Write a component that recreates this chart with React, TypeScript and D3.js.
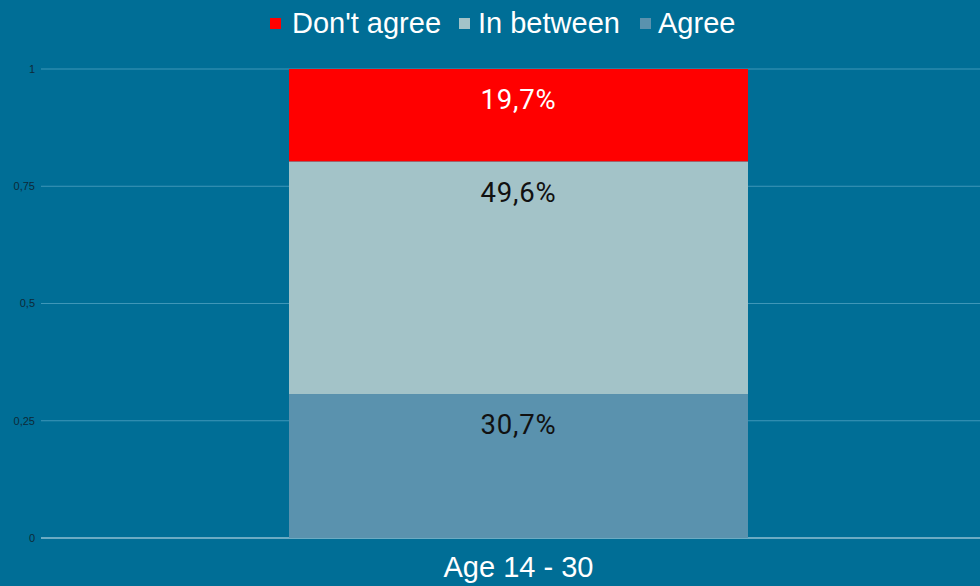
import React from "react";
import * as d3 from "d3";

const categories = ["Age 14 - 30"];
const seriesNames = ["Agree", "In between", "Don't agree"];
const agree = [0.307];
const inBetween = [0.496];
const dontAgree = [0.197];
const yTicks = [0, 0.25, 0.5, 0.75, 1];
const yTickLabels = ["0", "0,25", "0,5", "0,75", "1"];
const legendOrder = ["Don't agree", "In between", "Agree"];

const colors: Record<string, string> = {
  "Don't agree": "#ff0000",
  "In between": "#a3c3c8",
  Agree: "#5a92ae",
};
const labelColors: Record<string, string> = {
  "Don't agree": "#ffffff",
  "In between": "#111111",
  Agree: "#111111",
};

export default function App() {
  const W = 980, H = 586;
  const left = 41, right = 980, top = 69, bottom = 538;
  const x = d3.scaleBand().domain(categories).range([left, 996]).paddingInner(0).paddingOuter(0.5403);
  const y = d3.scaleLinear().domain([0, 1]).range([bottom, top]);
  const table = categories.map((c, i) => ({
    cat: c,
    Agree: agree[i],
    "In between": inBetween[i],
    "Don't agree": dontAgree[i],
  }));
  const stacked = d3.stack<any>().keys(seriesNames)(table);
  const font = "'Liberation Sans', Arial, sans-serif";

  const legendItems = [
    { name: legendOrder[0], sx: 270, tx: 292 },
    { name: legendOrder[1], sx: 459, tx: 478 },
    { name: legendOrder[2], sx: 640, tx: 658 },
  ];

  return (
    <svg width={W} height={H} style={{ position: "absolute", left: 0, top: 0, display: "block" }}>
      <rect x={0} y={0} width={W} height={H} fill="#006e96" />
      {yTicks.map((t, i) => (
        <g key={t}>
          <line
            x1={left}
            x2={right}
            y1={y(t)}
            y2={y(t)}
            stroke={t === 0 ? "#8fc0d2" : "#3f97b8"}
            strokeWidth={t === 0 ? 1.5 : 1}
          />
          <text x={35} y={y(t)} dy="0.35em" textAnchor="end" fontFamily={font} fontSize={11} fill="#0d2a38">
            {yTickLabels[i]}
          </text>
        </g>
      ))}
      {stacked.map((s) => (
        <g key={s.key}>
          {s.map((d, i) => {
            const cat = categories[i];
            const y0 = y(d[1]);
            const y1 = y(d[0]);
            return (
              <g key={cat}>
                <rect x={x(cat)} y={y0} width={x.bandwidth()} height={y1 - y0} fill={colors[s.key]} />
                <text
                  x={(x(cat) as number) + x.bandwidth() / 2}
                  y={y0 + 40.3}
                  textAnchor="middle"
                  fontFamily="Roboto, sans-serif"
                  fontSize={27.5}
                  letterSpacing={0.8}
                  fill={labelColors[s.key]}
                >
                  {((d[1] - d[0]) * 100).toFixed(1).replace(".", ",") + "%"}
                </text>
              </g>
            );
          })}
        </g>
      ))}
      {categories.map((c) => (
        <text
          key={c}
          x={(x(c) as number) + x.bandwidth() / 2}
          y={577}
          textAnchor="middle"
          fontFamily={font}
          fontSize={29}
          fill="#ffffff"
        >
          {c}
        </text>
      ))}
      {legendItems.map((l) => (
        <g key={l.name}>
          <rect x={l.sx} y={18} width={11} height={11} fill={colors[l.name]} />
          <text x={l.tx} y={33} fontFamily={font} fontSize={29} fill="#ffffff">
            {l.name}
          </text>
        </g>
      ))}
    </svg>
  );
}
